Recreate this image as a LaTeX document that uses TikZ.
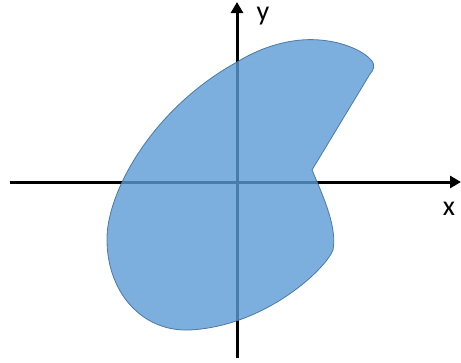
\documentclass[tikz,border=0pt]{standalone}
\usepackage{fontspec}
\setmainfont{Carlito}
\usetikzlibrary{arrows.meta}
\definecolor{blobfill}{RGB}{91,155,213}
\definecolor{blobline}{RGB}{65,113,156}
\tikzset{
  axis/.style={line width=3pt,-{Triangle[length=11pt,width=12pt]}},
  blob/.style={fill=blobfill,fill opacity=0.8,draw=blobline,line width=0.8pt,draw opacity=0.9},
  lbl/.style={font=\fontsize{28}{30}\selectfont,inner sep=0pt}
}
\begin{document}
\begin{tikzpicture}[x=1pt,y=-1pt]
\useasboundingbox (0,0) rectangle (461,362);
\coordinate (xs) at (10,182);
\coordinate (xe) at (461,182);
\coordinate (ys) at (237,358);
\coordinate (ye) at (237,2);
\draw[axis] (xs) -- (xe);
\draw[axis] (ys) -- (ye);
\node[lbl] (ylab) at (263,16) {y};
\node[lbl] (xlab) at (449,209) {x};
\path[blob] (312,170)
  .. controls (325,200) and (337,228) .. (333,250)
  .. controls (325,270) and (265,326) .. (190,330)
  .. controls (140,332) and (107,290) .. (107,240)
  .. controls (106,195) and (150,110) .. (237,62)
  .. controls (268,43) and (298,38) .. (320,40)
  .. controls (345,42) and (365,52) .. (372,61)
  .. controls (375,65) and (374,70) .. (370,74)
  -- cycle;
\end{tikzpicture}
\end{document}
